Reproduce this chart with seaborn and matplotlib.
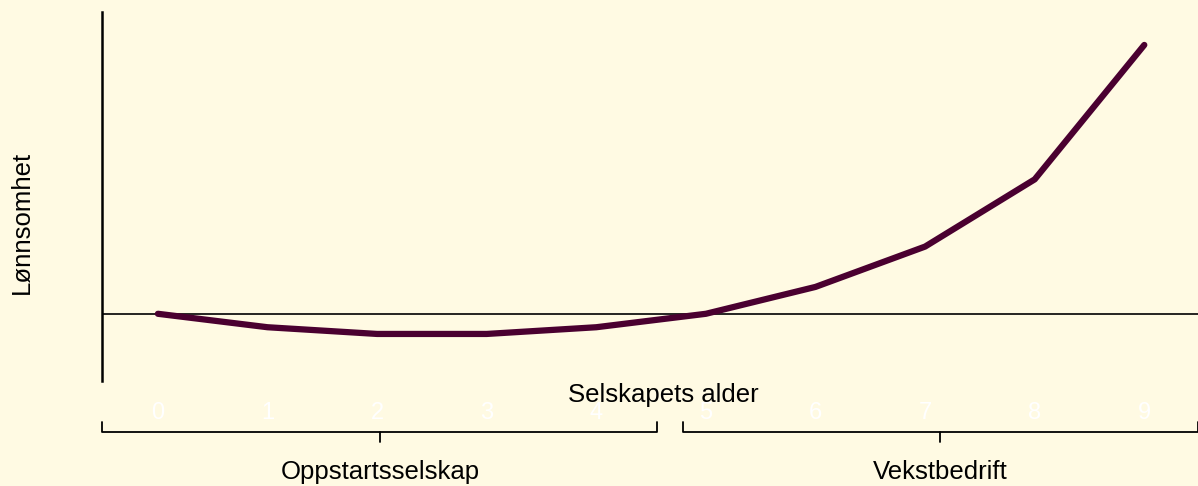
import matplotlib
matplotlib.use("Agg")
import matplotlib.pyplot as plt
import matplotlib.transforms as mtransforms
import seaborn as sns
import pandas as pd

ages = [0, 1, 2, 3, 4, 5, 6, 7, 8, 9]
profit = [0, -1, -1.5, -1.5, -1, 0, 2, 5, 10, 20]
tick_labels = ["0", "1", "2", "3", "4", "5", "6", "7", "8", "9"]
x_label = "Selskapets alder"
y_label = "Lønnsomhet"
phase_labels = ["Oppstartsselskap", "Vekstbedrift"]

BG = "#FFFAE3"
LINE = "#4A0030"

sns.set_theme(style="white")
plt.rcParams["font.family"] = ["Liberation Sans", "DejaVu Sans"]

fig = plt.figure(figsize=(11.98, 4.86), dpi=100, facecolor=BG)
ax = fig.add_axes([102 / 1198, 1 - 381 / 486, 1 - 102 / 1198, (381 - 12) / 486])
ax.set_facecolor(BG)

df = pd.DataFrame({"age": ages, "profit": profit})
ax.axhline(0, color="black", lw=1.2, zorder=1)
sns.lineplot(data=df, x="age", y="profit", ax=ax, color=LINE, lw=4.5,
             solid_capstyle="round", solid_joinstyle="round", zorder=3)

ax.set_xlim(-0.51, 9.49)
ax.set_ylim(-5, 22.45)
ax.set_yticks([])
ax.set_xticks(ages)
ax.set_xticklabels(tick_labels, color="white", fontsize=17)
ax.tick_params(axis="x", length=0, pad=15)
ax.set_xlabel("")
ax.set_ylabel("")
for s in ["top", "right", "bottom"]:
    ax.spines[s].set_visible(False)
ax.spines["left"].set_color("black")
ax.spines["left"].set_linewidth(1.8)

ax.text((663 - 102) / 1096, (381 - 395) / 369, x_label, transform=ax.transAxes,
        ha="center", va="center", fontsize=18.5, color="black")
fig.text(22 / 1198, 1 - 222 / 486, y_label, rotation=90, ha="center", va="center",
         fontsize=18.5, color="black")

# braces under the axis
trans = mtransforms.blended_transform_factory(ax.transData, ax.transAxes)
y_b = (381 - 432) / 369
y_top = (381 - 422) / 369
y_mid = (381 - 442) / 369
y_txt = (381 - 472) / 369
braces = [(-0.51, 4.55, 2.03, phase_labels[0]), (4.79, 9.49, 7.14, phase_labels[1])]
for x0, x1, xm, lab in braces:
    ax.plot([x0, x0, x1, x1], [y_top, y_b, y_b, y_top], color="black", lw=1.3,
            transform=trans, clip_on=False, solid_joinstyle="round")
    ax.plot([xm, xm], [y_b, y_mid], color="black", lw=1.3, transform=trans, clip_on=False)
    ax.text(xm, y_txt, lab, transform=trans, ha="center", va="center", fontsize=18.5,
            color="black")

fig.savefig("out.png", dpi=100, facecolor=BG)
